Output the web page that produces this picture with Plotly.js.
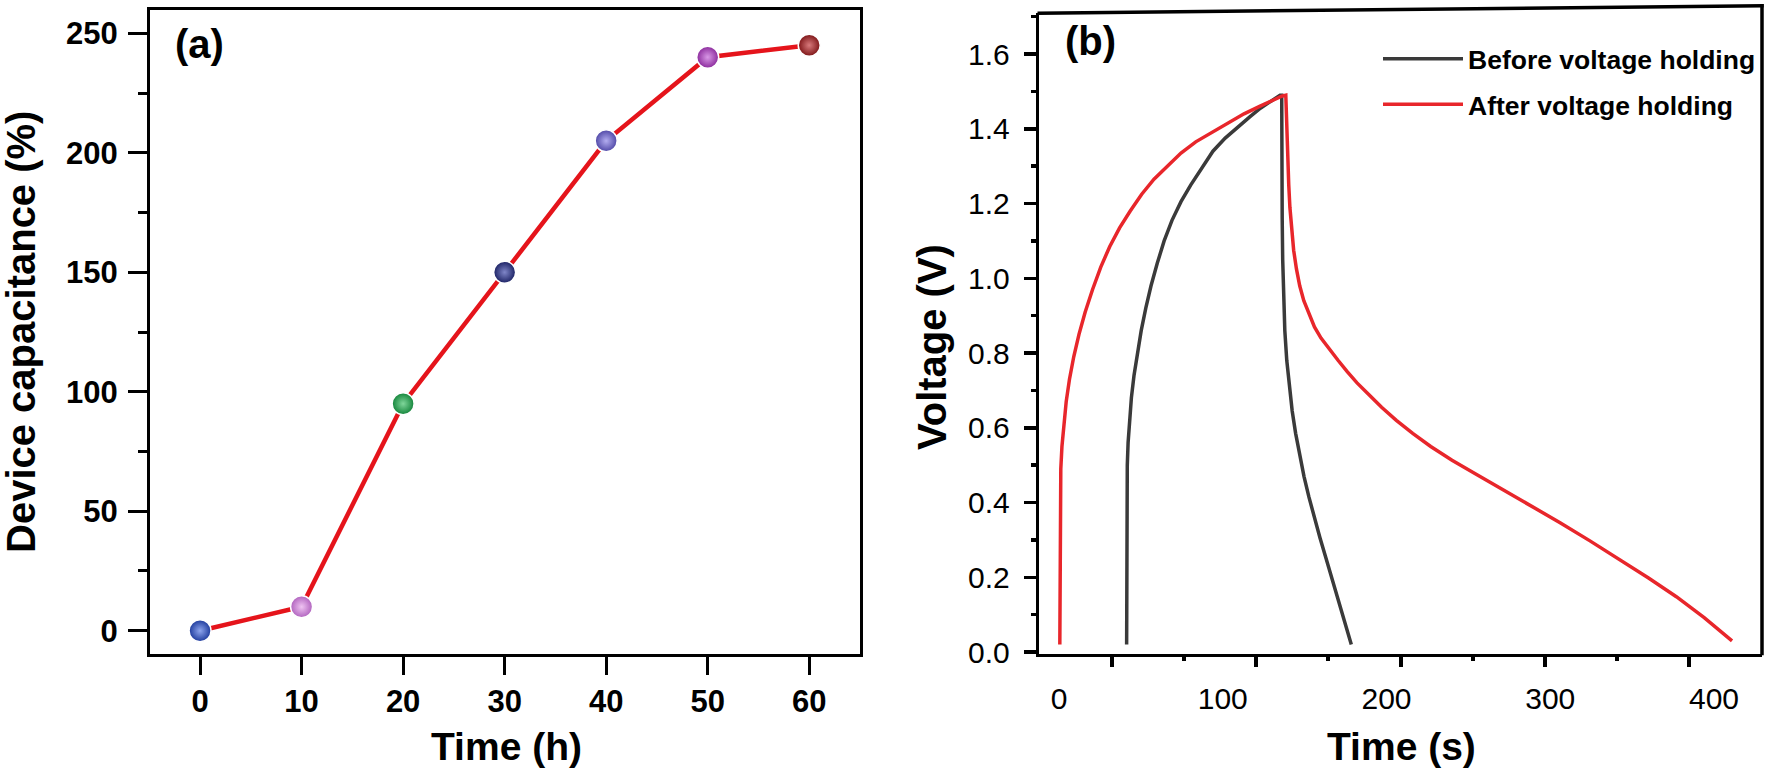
<!DOCTYPE html>
<html>
<head>
<meta charset="utf-8">
<script src="https://cdn.plot.ly/plotly-3.0.1.min.js"></script>
<style>html,body{margin:0;padding:0;background:#fff;}#chart{width:1770px;height:771px;}</style>
</head>
<body>
<div id="chart"></div>
<script>
// ---------- Panel (a) data ----------
const timeHours = [0, 10, 20, 30, 40, 50, 60];
const deviceCapacitance = [0, 10, 95, 150, 205, 240, 245];
const sphereColors = ['#1d3a9c', '#b062be', '#13843a', '#1b2163', '#4f47a6', '#8b2a9c', '#7d1416'];
const sphereHighlights = ['#8fa6ee', '#efc3f2', '#7fd69a', '#7f86c8', '#b3adf0', '#d898e6', '#d87a7c'];
const xTicksA = [0, 10, 20, 30, 40, 50, 60];

// ---------- Panel (b) data ----------
const beforeLabel = 'Before voltage holding';
const afterLabel = 'After voltage holding';
const beforeTime = [41.3, 41.3, 41.4, 41.7, 42.2, 43, 44.2, 45.8, 47.8, 50.2, 53, 56.2, 60, 64.2, 69, 74.5, 80.5, 87, 94, 101.5, 109, 116.5, 123, 128.5, 132.5, 135, 136,
                    136, 136.1, 136.3, 136.6, 137.1, 137.9, 139.1, 140.6, 142.4, 144.5, 146.9, 149.6, 152.6, 155.9, 159.4, 163.1, 167, 171, 175, 178.5];
const beforeVoltage = [0.02, 0.25, 0.42, 0.50, 0.56, 0.62, 0.68, 0.74, 0.80, 0.86, 0.92, 0.98, 1.04, 1.10, 1.155, 1.205, 1.25, 1.295, 1.34, 1.375, 1.405, 1.432, 1.455, 1.472, 1.484, 1.49, 1.49,
                       1.40, 1.28, 1.16, 1.05, 0.95, 0.86, 0.78, 0.71, 0.645, 0.585, 0.525, 0.47, 0.415, 0.36, 0.305, 0.25, 0.19, 0.13, 0.07, 0.02];
const afterTime = [0.5, 0.55, 0.7, 1.1, 1.8, 2.9, 4.4, 6.4, 9, 12.2, 16, 20.5, 25.5, 31, 37, 43.5, 50.5, 58, 66, 74.5, 83.5, 93, 103, 113, 122.5, 131, 136, 138.5,
                   138.8, 139.2, 139.7, 140.3, 141, 142, 143.3, 145, 147, 149.5, 152.5, 156, 160, 165, 170.5, 176, 182, 189, 197, 206, 216, 227, 240, 255, 271, 288, 306, 324, 342, 360, 377, 394, 411];
const afterVoltage = [0.02, 0.30, 0.42, 0.49, 0.55, 0.61, 0.67, 0.73, 0.79, 0.85, 0.91, 0.97, 1.03, 1.085, 1.135, 1.18, 1.225, 1.265, 1.30, 1.335, 1.365, 1.39, 1.414, 1.44, 1.46, 1.478, 1.487, 1.49,
                      1.44, 1.38, 1.31, 1.25, 1.19, 1.13, 1.075, 1.025, 0.98, 0.94, 0.905, 0.87, 0.84, 0.81, 0.78, 0.75, 0.72, 0.69, 0.655, 0.62, 0.585, 0.55, 0.513, 0.475, 0.435, 0.392, 0.346, 0.298, 0.249, 0.198, 0.148, 0.092, 0.03];
const xLabelsB = [0, 100, 200, 300, 400];
const xMajorTickMarksB = [32.2, 120.4, 208.6, 296.8, 385.0];
const xMinorTickMarksB = [76.3, 164.5, 252.7, 340.9];
const yTicksB = [0, 0.2, 0.4, 0.6, 0.8, 1.0, 1.2, 1.4, 1.6];

const W = 1770, H = 771;
const px = v => v / W;
const py = v => 1 - v / H;

const boldFont = {family: 'Arial, "Liberation Sans", sans-serif', color: '#000', weight: 'bold'};
const plainFont = {family: 'Arial, "Liberation Sans", sans-serif', color: '#000'};

const traces = [
  {
    x: timeHours, y: deviceCapacitance, xaxis: 'x', yaxis: 'y',
    type: 'scatter', mode: 'lines+markers', showlegend: false, hoverinfo: 'skip',
    line: {color: '#e5141b', width: 4.5},
    marker: {size: 22, color: sphereColors, line: {color: '#ffffff', width: 1.5},
             gradient: {type: 'radial', color: sphereHighlights}}
  },
  {
    x: beforeTime, y: beforeVoltage, xaxis: 'x2', yaxis: 'y2', name: beforeLabel,
    type: 'scatter', mode: 'lines', line: {color: '#3a3a3a', width: 3.5},
    legendgroup: 'g1', hoverinfo: 'skip'
  },
  {
    x: afterTime, y: afterVoltage, xaxis: 'x2', yaxis: 'y2', name: afterLabel,
    type: 'scatter', mode: 'lines', line: {color: '#e8262b', width: 3.5},
    legendgroup: 'g2', hoverinfo: 'skip'
  },
  {
    x: [], y: [], xaxis: 'x3', yaxis: 'y2', type: 'scatter', mode: 'lines', showlegend: false
  }
];

const axisCommon = {showgrid: false, zeroline: false, showline: true, linecolor: '#000', tickcolor: '#000', ticks: 'outside'};

const layout = {
  width: W, height: H,
  margin: {l: 0, r: 0, t: 0, b: 0},
  paper_bgcolor: '#fff', plot_bgcolor: '#fff',
  showlegend: true,
  legend: {x: px(1378), y: py(35), xanchor: 'left', yanchor: 'top', bgcolor: 'rgba(0,0,0,0)',
           font: Object.assign({}, boldFont, {size: 26.5}), itemwidth: 80, traceorder: 'grouped', tracegroupgap: 8},
  xaxis: Object.assign({}, axisCommon, {
    domain: [px(150), px(860)], range: [-4.93, 65], anchor: 'y',
    tickvals: xTicksA, ticklen: 18, tickwidth: 3, linewidth: 3, mirror: true,
    tickfont: Object.assign({}, boldFont, {size: 31}), ticklabelstandoff: 0
  }),
  yaxis: Object.assign({}, axisCommon, {
    domain: [1 - 654 / H, 1 - 10 / H], range: [-9.75, 259.75], anchor: 'x',
    tick0: 0, dtick: 50, ticklen: 19, tickwidth: 3, linewidth: 3, mirror: true,
    minor: {dtick: 25, ticks: 'outside', ticklen: 9, tickwidth: 3, tickcolor: '#000', showgrid: false},
    tickfont: Object.assign({}, boldFont, {size: 31}), ticklabelstandoff: 4
  }),
  xaxis2: Object.assign({}, axisCommon, {
    domain: [px(1039.3), px(1762)], range: [-12.03, 429.3], anchor: 'y2',
    tickvals: xLabelsB, ticks: '', linewidth: 3.5, mirror: false,
    tickfont: Object.assign({}, plainFont, {size: 30}), ticklabelstandoff: 16
  }),
  xaxis3: {
    overlaying: 'x2', anchor: 'y2', range: [-12.03, 429.3], showgrid: false, zeroline: false, showline: false,
    tickvals: xMajorTickMarksB, ticks: 'outside', ticklen: 12, tickwidth: 4, tickcolor: '#000', showticklabels: false,
    minor: {tickvals: xMinorTickMarksB, ticks: 'outside', ticklen: 6, tickwidth: 4, tickcolor: '#000', showgrid: false}
  },
  yaxis2: Object.assign({}, axisCommon, {
    domain: [1 - 653.5 / H, 1 - 13.3 / H], range: [-0.004, 1.709], anchor: 'x2',
    tickvals: yTicksB, tickformat: '.1f', ticklen: 12, tickwidth: 3.5, linewidth: 3.5, mirror: false,
    minor: {dtick: 0.1, ticks: 'outside', ticklen: 5, tickwidth: 3.5, tickcolor: '#000', showgrid: false},
    tickfont: Object.assign({}, plainFont, {size: 30}), ticklabelstandoff: 8
  }),
  shapes: [
    {type: 'line', xref: 'paper', yref: 'paper', x0: px(1037.5), y0: py(13.3), x1: px(1763.7), y1: py(5.7),
     line: {color: '#000', width: 3.5}},
    {type: 'line', xref: 'paper', yref: 'paper', x0: px(1762), y0: py(655.2), x1: px(1762), y1: py(4),
     line: {color: '#000', width: 3.5}}
  ],
  annotations: [
    {text: '(a)', xref: 'paper', yref: 'paper', x: px(199), y: py(44), xanchor: 'center', yanchor: 'middle', showarrow: false,
     font: Object.assign({}, boldFont, {size: 40})},
    {text: '(b)', xref: 'paper', yref: 'paper', x: px(1090), y: py(41), xanchor: 'center', yanchor: 'middle', showarrow: false,
     font: Object.assign({}, boldFont, {size: 40})},
    {text: 'Device capacitance (%)', xref: 'paper', yref: 'paper', x: px(21), y: py(332), xanchor: 'center', yanchor: 'middle',
     textangle: -90, showarrow: false, font: Object.assign({}, boldFont, {size: 40})},
    {text: 'Time (h)', xref: 'paper', yref: 'paper', x: px(506), y: py(746), xanchor: 'center', yanchor: 'middle', showarrow: false,
     font: Object.assign({}, boldFont, {size: 39})},
    {text: 'Voltage (V)', xref: 'paper', yref: 'paper', x: px(932), y: py(347), xanchor: 'center', yanchor: 'middle',
     textangle: -90, showarrow: false, font: Object.assign({}, boldFont, {size: 40})},
    {text: 'Time (s)', xref: 'paper', yref: 'paper', x: px(1401), y: py(746), xanchor: 'center', yanchor: 'middle', showarrow: false,
     font: Object.assign({}, boldFont, {size: 39})}
  ]
};

Plotly.newPlot('chart', traces, layout, {staticPlot: true, displayModeBar: false});
</script>
</body>
</html>
